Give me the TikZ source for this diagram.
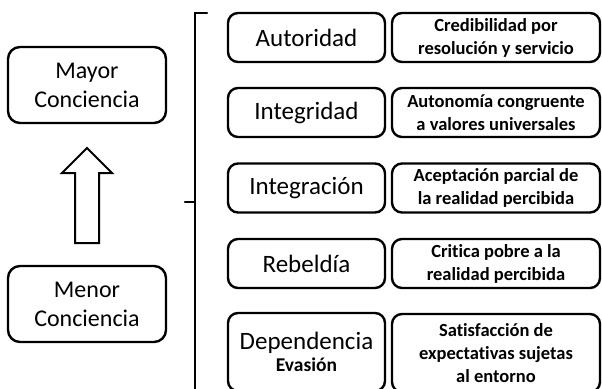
\documentclass[tikz,border=0pt]{standalone}
\usepackage{fontspec}
\setmainfont[Ligatures={NoCommon}]{Carlito}
\begin{document}
\begin{tikzpicture}[x=1pt, y=-1pt, line width=2.4pt,
  every node/.style={inner sep=2pt},
  levelbox/.style={draw, rounded corners=10pt, minimum width=157pt, minimum height=49pt, align=center, font=\fontsize{25}{28}\selectfont},
  descbox/.style={draw, rounded corners=10pt, minimum width=208pt, minimum height=49pt, align=center, font=\bfseries\fontsize{18.5}{23}\selectfont},
  endbox/.style={draw, rounded corners=12pt, minimum width=158pt, minimum height=76pt, align=center, font=\fontsize{24}{29}\selectfont}]
\useasboundingbox (0,0) rectangle (602,388);
% left side
\node[endbox] (mayor) at (87,85) {Mayor\\Conciencia};
\node[endbox] (menor) at (87,304) {Menor\\Conciencia};
\coordinate (tip) at (87,148);
\coordinate (tail) at (87,243);
\draw[line width=2pt] (tip) -- ++(25,25) -- ++(-13,0) |- (tail) -| ++(-12,-70) -- ++(-13,0) -- cycle;
% bracket
\coordinate (btop) at (195,13);
\draw[line cap=round] ([xshift=12pt]btop) -- (btop) -- ++(0,385);
\draw[line cap=round] (195,202) -- (185,202);
% levels
\node[levelbox] (auto) at (306.5,37.5) {Autoridad};
\node[levelbox] (integr) at (306.5,112.5) {Integridad};
\node[levelbox] (integra) at (306.5,188) {Integración};
\node[levelbox] (rebel) at (306.5,263.5) {Rebeldía};
\node[levelbox, minimum height=78pt] (depen) at (306.5,352) {Dependencia\\[-6pt]{\bfseries\fontsize{19.5}{22}\selectfont Evasión}};
% descriptions
\node[descbox] (cred) at (496,37.5) {Credibilidad por\\resolución y servicio};
\node[descbox] (auton) at (496,112.5) {Autonomía congruente\\a valores universales};
\node[descbox] (acep) at (496,188) {Aceptación parcial de\\la realidad percibida};
\node[descbox] (crit) at (496,263.5) {Critica pobre a la\\realidad percibida};
\node[descbox, minimum height=78pt] (satis) at (496,353) {Satisfacción de\\expectativas sujetas\\al entorno};
\end{tikzpicture}
\end{document}
